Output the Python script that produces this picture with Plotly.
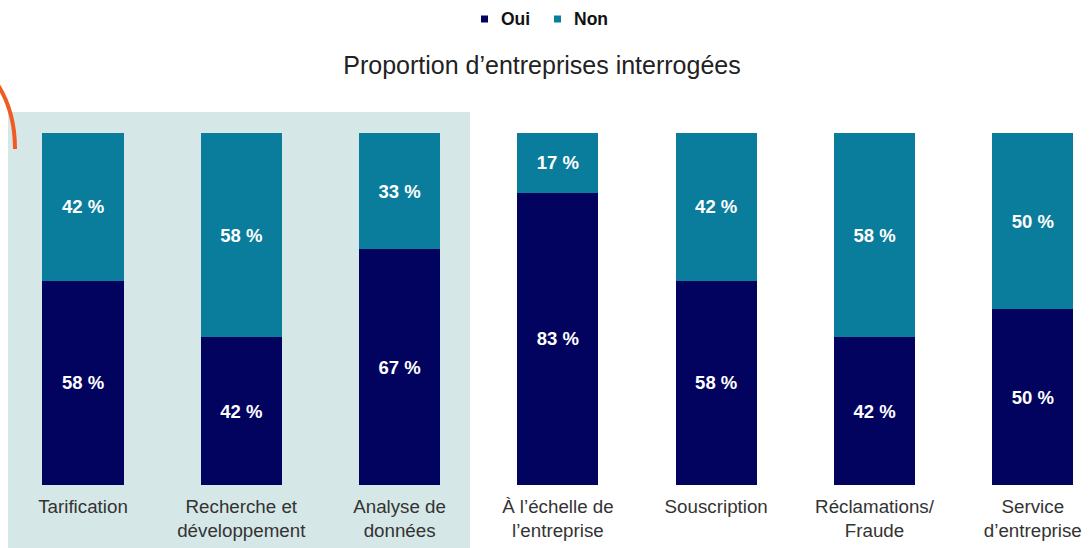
import plotly.graph_objects as go

categories = ["Tarification", "Recherche et<br>développement", "Analyse de<br>données",
              "À l’échelle de<br>l’entreprise", "Souscription", "Réclamations/<br>Fraude",
              "Service<br>d’entreprise"]
series_names = ["Oui", "Non"]
oui = [58, 42, 67, 83, 58, 42, 50]
non = [42, 58, 33, 17, 42, 58, 50]
colors = ["#02035f", "#0a7d9c"]

W, H = 1089, 548
T = 133
PLOT_BOTTOM = 485
B = H - PLOT_BOTTOM
PH = H - T - B
STEP = 158.3
X0 = 83

def px(x):
    return x / W

def py(y):
    return (PLOT_BOTTOM - y) / PH

xs = list(range(len(categories)))
FONT = "Liberation Sans, Arial, sans-serif"

fig = go.Figure()
for name, vals, col in zip(series_names, [oui, non], colors):
    fig.add_trace(go.Bar(x=xs, y=vals, name=name, marker_color=col, marker_line_width=0,
                         width=0.512,
                         texttemplate="%{y} %", textposition="inside", insidetextanchor="middle",
                         textfont=dict(color="white", size=18.5, family=FONT, weight="bold"),
                         textangle=0, constraintext="none", showlegend=False))

shapes = [
    dict(type="rect", xref="paper", yref="paper", x0=px(8), x1=px(470), y0=py(560), y1=py(112),
         fillcolor="#d5e7e6", line_width=0, layer="below"),
    dict(type="path", xref="paper", yref="paper",
         path=f"M {px(-2)},{py(85)} Q {px(15)},{py(112)} {px(15)},{py(149)}",
         line=dict(color="#f15a22", width=4)),
]
annotations = []
# manual legend (small squares + bold labels)
for name, col, mx, tx in zip(series_names, colors, [481, 554], [499, 572]):
    shapes.append(dict(type="rect", xref="paper", yref="paper", x0=px(mx), x1=px(mx + 7),
                       y0=py(22.5), y1=py(15.5), fillcolor=col, line_width=0))
    annotations.append(dict(text=name, xref="paper", yref="paper", x=px(tx), y=py(19),
                            xanchor="left", yanchor="middle", showarrow=False,
                            font=dict(size=17.5, color="#111", family=FONT, weight="bold")))

fig.update_layout(
    barmode="stack",
    width=W, height=H,
    margin=dict(l=0, r=0, t=T, b=B),
    paper_bgcolor="white", plot_bgcolor="rgba(0,0,0,0)",
    font=dict(family=FONT, color="#333"),
    showlegend=False,
    title=dict(text="Proportion d’entreprises interrogées", x=px(542), xanchor="center",
               y=1 - 65 / H, yanchor="middle", font=dict(size=25, color="#222", family=FONT)),
    xaxis=dict(range=[-X0 / STEP, (W - X0) / STEP], tickmode="array", tickvals=xs,
               ticktext=categories, showgrid=False, zeroline=False, showline=False,
               tickfont=dict(size=18.75, color="#333", family=FONT), ticklabelstandoff=8),
    yaxis=dict(range=[0, 100], visible=False, showgrid=False),
    shapes=shapes,
    annotations=annotations,
)

fig.write_html("out.html", config={"displayModeBar": False},
               post_script="document.body.style.margin='0';document.body.style.overflow='hidden';")
